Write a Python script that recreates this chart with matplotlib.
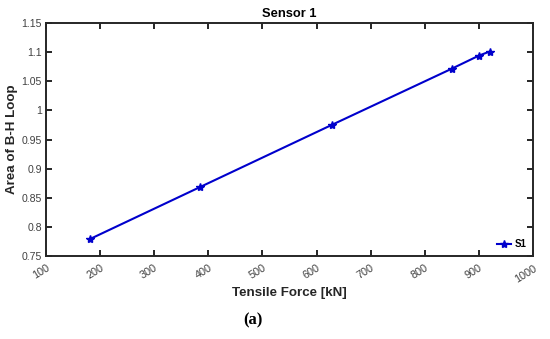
import matplotlib
matplotlib.use("Agg")
import matplotlib.pyplot as plt
import matplotlib.transforms as mtransforms

force = [181, 385, 628, 850, 900, 920]
area = [0.779, 0.8685, 0.975, 1.0716, 1.094, 1.101]
x_ticks = [100, 200, 300, 400, 500, 600, 700, 800, 900, 1000]
y_ticks = [0.75, 0.8, 0.85, 0.9, 0.95, 1.0, 1.05, 1.1, 1.15]
y_ticklabels = ["0.75", "0.8", "0.85", "0.9", "0.95", "1", "1.05", "1.1", "1.15"]

plt.rcParams['font.family'] = ['Liberation Sans', 'DejaVu Sans']

fig = plt.figure(figsize=(5.5, 3.39), dpi=100)
ax = fig.add_axes([46/550, 1-256/339, (533-46)/550, (256-23)/339])

ax.plot(force, area, color='#0000CC', lw=1.5, marker='*', markersize=6, label='S1')
ax.set_xlim(100, 1000)
ax.set_ylim(0.75, 1.15)
ax.set_xticks(x_ticks)
ax.set_xticklabels([str(v) for v in x_ticks], rotation=32, color='#404040', fontsize=7.8,
                   ha='right', rotation_mode='anchor')
offset = mtransforms.ScaledTranslation(5/100, 0, fig.dpi_scale_trans)
for lab in ax.get_xticklabels():
    lab.set_transform(lab.get_transform() + offset)
ax.set_yticks(y_ticks)
ax.set_yticklabels(y_ticklabels, color='#404040', fontsize=7.6)
ax.tick_params(direction='in', top=True, right=True, length=4, width=1.2, pad=3)
ax.tick_params(axis='x', pad=5)
for s in ax.spines.values():
    s.set_linewidth(1.4)
    s.set_color('#262626')

ax.set_title('Sensor 1', fontsize=9.3, fontweight='bold', pad=4)
ax.set_xlabel('Tensile Force [kN]', fontsize=9.6, fontweight='bold', color='#262626', labelpad=2)
ax.set_ylabel('Area of B-H Loop', fontsize=9.6, fontweight='bold', color='#262626')
ax.yaxis.set_label_coords(-0.058, 0.5)

leg = ax.legend(loc='lower right', frameon=False, fontsize=7, handlelength=1.5,
                handletextpad=0.3, borderaxespad=0.3)
for t in leg.get_texts():
    t.set_fontweight('bold')

fig.text(253/550, 1-320/339, '(a)', fontsize=12, fontweight='bold',
         family=['Liberation Serif', 'DejaVu Serif'], ha='center', va='center')

fig.savefig('out.png', dpi=100)
